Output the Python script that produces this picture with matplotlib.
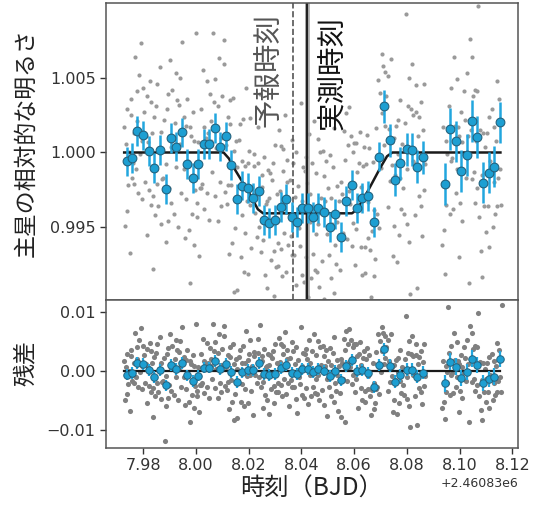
import numpy as np
import matplotlib
matplotlib.use('Agg')
import matplotlib.pyplot as plt

# ---------------- data (times are BJD - 2460830) ----------------
T0 = 2460830.0
t_pred = 8.0367          # 予報時刻
t_obs = 8.0422           # 実測時刻
t_obs_err = 0.0009

model_t = [7.9728, 8.0105, 8.0125, 8.0150, 8.0200, 8.0235, 8.0255,
           8.0592, 8.0612, 8.0650, 8.0700, 8.0725, 8.0745, 8.1155]
model_f = [1.0, 1.0, 0.99960, 0.99880, 0.99735, 0.99620, 0.99593,
           0.99593, 0.99620, 0.99735, 0.99900, 0.99975, 1.0, 1.0]

bin_t = [7.9737, 7.9758, 7.9778, 7.9800, 7.9822, 7.9842, 7.9863, 7.9885,
         7.9904, 7.9926, 7.9947, 7.9967, 7.9988, 8.0009, 8.0029, 8.0050,
         8.0071, 8.0091, 8.0114, 8.0134, 8.0154, 8.0176, 8.0196, 8.0216,
         8.0240, 8.0258, 8.0279, 8.0301, 8.0321, 8.0341, 8.0363, 8.0384,
         8.0404, 8.0425, 8.0445, 8.0465, 8.0487, 8.0508, 8.0528, 8.0549,
         8.0570, 8.0591, 8.0612, 8.0631, 8.0651, 8.0674, 8.0693, 8.0713,
         8.0736, 8.0756, 8.0776, 8.0799, 8.0819, 8.0839, 8.0861,
         8.0944, 8.0963, 8.0986, 8.1005, 8.1027, 8.1049, 8.1068, 8.1090,
         8.1110, 8.1132, 8.1152]
bin_f = [0.99940, 0.99962, 1.00141, 1.00114, 1.00011, 0.99895, 1.00018, 0.99754,
         1.00096, 1.00040, 1.00134, 0.99924, 0.99828, 0.99922, 1.00058, 1.00058,
         1.00163, 1.00040, 1.00107, 0.99917, 0.99687, 0.99779, 0.99761, 0.99694,
         0.99745, 0.99548, 0.99526, 0.99548, 0.99638, 0.99689, 0.99566, 0.99537,
         0.99626, 0.99626, 0.99570, 0.99626, 0.99600, 0.99503, 0.99586, 0.99436,
         0.99676, 0.99783, 0.99626, 0.99698, 0.99709, 0.99537, 0.99973, 1.00309,
         1.00081, 0.99817, 0.99928, 1.00022, 1.00018, 0.99906, 0.99969,
         0.99790, 1.00157, 1.00074, 0.99877, 0.99984, 1.00208, 1.00103, 0.99799,
         0.99866, 0.99906, 1.00201]
bin_err = [0.0010] * 47 + [0.0011] * 8 + [0.0014] * 11

# raw photometry: time offsets in 1e-4 d from 7.97, residuals in 1e-3
gray_t_e4 = [
    28, 31, 34, 37, 40, 43, 46,   49, 52, 55, 58, 61, 64, 67,
    69, 72, 75, 78, 81, 84, 87,   91, 94, 97, 100, 103, 106, 109,
    113, 116, 119, 122, 125, 128, 131,   133, 136, 139, 142, 145, 148, 151,
    154, 157, 160, 163, 166, 169, 172,   176, 179, 182, 185, 188, 191, 194,
    195, 198, 201, 204, 207, 210, 213,   217, 220, 223, 226, 229, 232, 235,
    238, 241, 244, 247, 250, 253, 256,   258, 261, 264, 267, 270, 273, 276,
    279, 282, 285, 288, 291, 294, 297,   300, 303, 306, 309, 312, 315, 318,
    320, 323, 326, 329, 332, 335, 338,   341, 344, 347, 350, 353, 356, 359,
    362, 365, 368, 371, 374, 377, 380,   382, 385, 388, 391, 394, 397, 400,
    405, 408, 411, 414, 417, 420, 423,   425, 428, 431, 434, 437, 440, 443,
    445, 448, 451, 454, 457, 460, 463,   467, 470, 473, 476, 479, 482, 485,
    487, 490, 493, 496, 499, 502, 505,   507, 510, 513, 516, 519, 522, 525,
    531, 534, 537, 540, 543, 546, 549,   550, 553, 556, 559, 562, 565, 568,
    570, 573, 576, 579, 582, 585, 588,   592, 595, 598, 601, 604, 607, 610,
    612, 615, 618, 621, 624, 627, 630,   632, 635, 638, 641, 644, 647, 650,
    654, 657, 660, 663, 666, 669, 672,   675, 678, 681, 684, 687, 690, 693,
    695, 698, 701, 704, 707, 710, 713,   716, 719, 722, 725, 728, 731, 734,
    736, 739, 742, 745, 748, 751, 754,   756, 759, 762, 765, 768, 771, 774,
    778, 781, 784, 787, 790, 793, 796,   799, 802, 805, 808, 811, 814, 817,
    819, 822, 825, 828, 831, 834, 837,   840, 843, 846, 849, 852, 855, 858,
    861, 864, 867, 870, 873, 876, 879,   882, 885, 888, 891, 894, 897, 900,
    903, 906, 909, 912, 915, 918, 921,   922, 925, 928, 931, 934, 937, 940,
    942, 945, 948, 951, 954, 957, 960,   965, 968, 971, 974, 977, 980, 983,
    984, 987, 990, 993, 996, 999, 1002,   1004, 1007, 1010, 1013, 1016, 1019, 1022,
    1027, 1030, 1033, 1036, 1039, 1042, 1045,   1047, 1050, 1053, 1056, 1059, 1062, 1065,
    1067, 1070, 1073, 1076, 1079, 1082, 1085,   1090, 1093, 1096, 1099, 1102, 1105, 1108,
    1110, 1113, 1116, 1119, 1122, 1125, 1128,   1130, 1133, 1136, 1139, 1142, 1145, 1148,
    1152, 1155, 1158, 1161, 1164, 1167, 1170,
    1235, 1238, 1241, 1244, 1247, 1250, 1253,   1254, 1257, 1260, 1263, 1266, 1269, 1272,
    1277, 1280, 1283, 1286, 1289, 1292, 1295,   1296, 1299, 1302, 1305, 1308, 1311, 1314,
    1318, 1321, 1324, 1327, 1330, 1333, 1336,   1340, 1343, 1346, 1349, 1352, 1355, 1358,
    1359, 1362, 1365, 1368, 1371, 1374, 1377,   1381, 1384, 1387, 1390, 1393, 1396, 1399,
    1401, 1404, 1407, 1410, 1413, 1416, 1419,   1423, 1426, 1429, 1432, 1435, 1438, 1441,
    1443, 1446, 1449, 1452, 1455, 1458, 1461]
gray_res_e3 = [
    1.7, -4.9, 0.6, -3.9, 2.9, -2.2, 0.0,   -6.7, 2.5, 3.6, -1.7, -0.7, 1.3, -2.1,
    6.4, -1.1, 4.1, 2.1, -2.7, 5.2, -0.1,   7.3, 0.8, -3.1, 4.3, 2.7, -2.0, 1.1,
    -5.5, 3.8, 0.7, -2.5, 4.8, -3.5, 3.4,   1.3, -7.8, -2.9, 2.4, -4.2, 3.1, -2.1,
    4.6, -3.6, 0.3, 5.7, -4.8, 1.4, -1.8,   -1.7, 2.2, -11.8, -6.0, -0.8, 2.9, -4.6,
    3.9, -2.4, 6.2, 0.4, -3.4, 4.2, 0.4,   -4.1, 2.0, 5.3, -1.0, 3.5, -5.0, 3.2,
    5.0, 0.6, -2.7, 7.4, 1.5, -1.1, 2.4,   -5.7, 1.8, -3.1, 3.6, -0.6, -5.2, 1.7,
    -8.7, 1.1, -4.1, 2.7, -6.2, 0.8, -2.5,   8.0, -4.3, -3.4, 0.7, -6.9, -2.4, -2.4,
    2.9, -2.1, 5.5, -3.8, 1.7, 0.6, 1.0,   -2.7, 4.8, 1.3, -4.5, 3.9, 2.1, 0.8,
    -1.3, 8.0, 3.4, -2.9, 4.9, 0.3, 0.4,   -4.6, 3.1, 6.3, -2.0, 1.0, -3.6, 3.8,
    5.9, 7.6, -2.5, 0.7, -3.2, 2.7, -1.8,   -6.4, 2.4, 4.1, -1.5, -5.3, 4.5, 1.1,
    -8.3, -3.9, 2.0, -7.9, 0.4, -1.7, 2.4,   3.6, -5.2, 1.3, -2.2, 4.3, -5.9, 1.3,
    -3.1, 6.7, -0.8, 1.8, -5.5, 2.8, -0.7,   5.2, -3.4, 0.8, -7.4, 3.2, 2.5, -0.6,
    -2.0, 5.5, 3.1, -1.1, 7.8, -2.7, 1.7,   2.5, -6.3, -1.8, 3.8, -4.1, 0.6, 0.8,
    -5.0, 2.9, -7.3, 1.0, 2.7, -3.1, 2.2,   3.4, -2.5, -5.5, 4.6, -3.6, 1.3, -2.0,
    -3.5, 5.6, 1.5, -2.4, 4.5, -4.2, 2.8,   4.3, -1.3, 6.6, -3.9, 2.1, 3.6, -2.1,
    -6.0, 2.2, -1.5, 4.9, -2.8, 3.4, -2.8,   1.1, -4.8, 4.1, -7.1, 1.8, -1.0, 0.4,
    -2.2, 7.4, -4.1, 0.8, 3.1, -4.6, 2.8,   3.8, -2.9, 2.0, -5.6, 5.3, 1.3, -0.6,
    -4.3, 3.4, 0.4, -2.7, 6.2, -3.8, -1.4,   2.7, -3.9, 5.0, -0.7, -4.9, 4.1, 1.0,
    -3.2, 4.2, -5.7, 2.5, 0.8, 3.5, -1.4,   -7.6, 1.7, -2.8, 3.9, -4.3, 1.0, -0.7,
    3.1, -5.3, 5.7, -2.1, -3.4, 1.8, -0.6,   -6.7, 0.8, -3.8, 2.1, -7.8, 1.3, -1.3,
    5.5, -8.7, 3.6, 6.7, -1.7, 4.6, 1.5,   7.1, 0.6, 5.2, -2.2, 4.1, -0.7, 4.6,
    -3.6, 4.5, -1.3, 2.5, -6.2, 2.9, -0.1,   4.9, -2.9, 1.0, -5.0, 2.2, 3.4, -3.4,
    -5.2, 2.0, 3.9, -3.1, -0.8, 2.7, -4.2,   -7.5, -3.2, 1.3, -6.4, -2.1, -5.5, -3.1,
    3.2, -2.7, 6.2, 0.7, -3.9, 5.0, -0.1,   7.5, 3.4, 6.5, 1.1, 5.9, 2.2, 4.1,
    -3.4, 5.3, 1.7, -1.8, 6.3, -0.8, 0.7,   -6.9, 1.0, -4.9, -1.5, 1.8, -7.3, -0.1,
    2.2, -5.5, -1.7, 3.5, -3.8, 0.6, -2.4,   -4.1, 2.0, 9.3, -4.8, -1.1, 3.1, -6.0,
    5.0, -9.5, 2.9, 5.9, -0.6, 2.5, -0.7,   -4.2, 2.7, 4.5, -9.1, 1.1, -2.9, 2.4,
    3.4, -3.6, -5.6, 1.5, 4.6, -2.5, -0.8,
    -6.2, 1.7, -5.2, -8.1, 0.8, -3.5, -0.1,   -2.1, 10.8, 3.1, -4.1, 4.3, -0.6, -0.4,
    -3.8, 6.4, 1.8, -2.7, 4.9, -1.1, 1.7,   -7.0, 1.1, -3.4, 2.7, -4.6, 0.7, -0.1,
    4.1, 2.2, -1.7, 5.3, -0.4, 1.1, -8.7,   7.6, 1.5, -1.8, 6.4, 3.8, -1.3, 4.2,
    -3.4, 0.8, -2.4, 4.1, 9.8, -4.3, 1.5,   -6.6, -1.5, -8.3, 1.3, -3.6, 0.4, -1.4,
    -5.3, 1.3, -3.6, 2.4, -6.3, -0.6, -1.0,   2.9, -5.0, -2.0, 1.7, -4.1, 0.8, -3.6,
    4.8, -1.7, 3.6, -1.1, 2.1, -3.5, 11.1]

xticks = [7.98, 8.00, 8.02, 8.04, 8.06, 8.08, 8.10, 8.12]
yticks_top = [0.995, 1.000, 1.005]
yticks_bot = [-0.01, 0.00, 0.01]

# ---------------- derived ----------------
model_t = np.array(model_t)
model_f = np.array(model_f)
bin_t = np.array(bin_t)
bin_f = np.array(bin_f)
gray_t = 7.97 + np.array(gray_t_e4) * 1e-4
gray_res = np.array(gray_res_e3) * 1e-3
gray_f = np.interp(gray_t, model_t, model_f) + gray_res
bin_res = bin_f - np.interp(bin_t, model_t, model_f)

cjk = ['Noto Sans CJK JP', 'DejaVu Sans']
blue = '#1d9fd2'
blue_edge = '#24627e'
ebar = '#22a6de'

fig = plt.figure(figsize=(5.38, 5.07), dpi=100)
ax1 = fig.add_axes([0.197, 0.408, 0.766, 0.586])
ax2 = fig.add_axes([0.197, 0.117, 0.766, 0.291], sharex=ax1)

# top panel
ax1.plot(T0 + gray_t, gray_f, 'o', ms=3.0, color='#9a9a9a', mew=0, zorder=1)
ax1.axvline(T0 + t_pred, color='#555555', ls='--', lw=1.2, zorder=2)
ax1.axvspan(T0 + t_obs - t_obs_err, T0 + t_obs + t_obs_err, color='#a8a8a8',
            alpha=0.8, lw=0, zorder=2)
ax1.axvline(T0 + t_obs, color='#222222', ls='-', lw=1.6, zorder=2.5)
ax1.plot(T0 + model_t, model_f, '-', color='#1a1a1a', lw=1.8, zorder=3)
ax1.errorbar(T0 + bin_t, bin_f, yerr=bin_err, fmt='o', ms=6.3, mfc=blue,
             mec=blue_edge, mew=0.8, ecolor=ebar, elinewidth=1.8, capsize=0,
             zorder=4)
ax1.text(T0 + 8.0332, 0.968, '予報時刻', rotation=90, ha='right', va='top',
         transform=ax1.get_xaxis_transform(), fontsize=20.5, color='#555555',
         family=cjk)
ax1.text(T0 + 8.0463, 0.958, '実測時刻', rotation=90, ha='left', va='top',
         transform=ax1.get_xaxis_transform(), fontsize=20.5, color='#111111',
         family=cjk)
ax1.set_ylim(0.99012, 1.0100)
ax1.set_yticks(yticks_top)
ax1.set_yticklabels(['%.3f' % v for v in yticks_top])
ax1.tick_params(axis='x', length=0, labelbottom=False)
ax1.set_ylabel('主星の相対的な明るさ', family=cjk, fontsize=16.5, color='#222222')
ax1.yaxis.set_label_coords(-0.167, 0.53)

# bottom panel
ax2.plot(T0 + gray_t, gray_res, 'o', ms=3.7, color='#808080', mew=0, zorder=1)
ax2.plot([T0 + model_t[0], T0 + model_t[-1]], [0, 0], '-', color='#1a1a1a',
         lw=1.6, zorder=3)
ax2.errorbar(T0 + bin_t, bin_res, yerr=bin_err, fmt='o', ms=5.4, mfc=blue,
             mec=blue_edge, mew=0.7, ecolor=ebar, elinewidth=1.6, capsize=0,
             zorder=4)
ax2.set_ylim(-0.0130, 0.0120)
ax2.set_yticks(yticks_bot)
ax2.set_yticklabels(['\u22120.01', '0.00', '0.01'])
ax2.set_xlim(T0 + 7.9659, T0 + 8.1222)
ax2.set_xticks([T0 + v for v in xticks])
ax2.set_xlabel('時刻（BJD）', family=cjk, fontsize=17.5, color='#222222',
               labelpad=2)
ax2.set_ylabel('残差', family=cjk, fontsize=16.5, color='#222222')
ax2.yaxis.set_label_coords(-0.167, 0.57)

for ax in (ax1, ax2):
    for s in ax.spines.values():
        s.set_color('#555555')
        s.set_linewidth(1.1)
    ax.tick_params(labelsize=11.5, colors='#333333', width=1.0, length=4)
ax2.xaxis.get_offset_text().set_fontsize(9)

fig.savefig('out.png', dpi=100)
